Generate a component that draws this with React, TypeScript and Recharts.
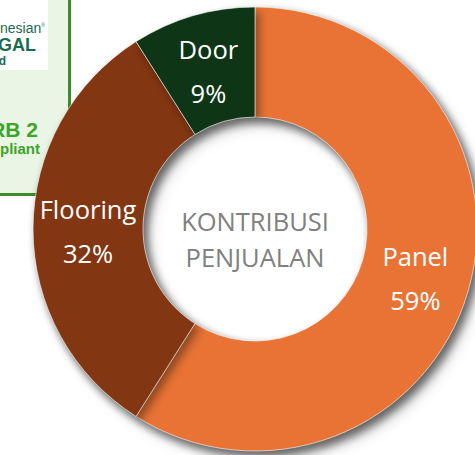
import React from 'react';
import { PieChart, Pie, Cell } from 'recharts';

const categories = ['Panel', 'Flooring', 'Door'];
const shares = [59, 32, 9];
const COLORS = ['#E87335', '#833612', '#0E3616'];
const centerLines = ['KONTRIBUSI', 'PENJUALAN'];

const data = categories.map((name, i) => ({ name, value: shares[i] }));

const RADIAN = Math.PI / 180;
const FONT = '"Open Sans", "Noto Sans", sans-serif';

const renderSliceLabel = (props: any) => {
  const { cx, cy, midAngle, innerRadius, outerRadius, index } = props;
  const r = (innerRadius + outerRadius) / 2;
  const x = cx + r * Math.cos(-midAngle * RADIAN);
  const y = cy + r * Math.sin(-midAngle * RADIAN);
  return (
    <g>
      <text x={x} y={y} fill="#fff" textAnchor="middle" fontSize={25.5} fontFamily={FONT}>
        <tspan x={x} y={y - 10}>{data[index].name}</tspan>
        <tspan x={x} y={y + 34}>{`${data[index].value}%`}</tspan>
      </text>
      {index === 0 && (
        <text x={cx} y={cy} fill="#808080" textAnchor="middle" fontSize={25.5} fontFamily={FONT}>
          <tspan x={cx} y={cy + 2}>{centerLines[0]}</tspan>
          <tspan x={cx} y={cy + 38}>{centerLines[1]}</tspan>
        </text>
      )}
    </g>
  );
};

// cropped certification badge sitting behind the donut
const badgeText = (extra: React.CSSProperties): React.CSSProperties => ({
  position: 'absolute',
  whiteSpace: 'nowrap',
  lineHeight: 1,
  ...extra,
});

const Badge = () => (
  <div
    style={{
      position: 'absolute',
      left: 0,
      top: 0,
      width: 68,
      height: 193,
      background: '#e9f6e5',
      borderRight: '3px solid #3d8b2c',
      borderBottom: '3px solid #3d8b2c',
      overflow: 'hidden',
      fontFamily: '"Liberation Sans", Arial, sans-serif',
      fontWeight: 700,
    }}
  >
    <div style={{ position: 'absolute', left: 0, top: 0, width: 48, height: 70, background: '#fff' }} />
    <div style={badgeText({ right: 23, top: 21, fontSize: 14, color: '#1e6a4e', fontWeight: 400 })}>
      Indonesian<sup style={{ fontSize: 5 }}>®</sup>
    </div>
    <div style={badgeText({ right: 32, top: 36, fontSize: 18, color: '#1e6a4e' })}>LEGAL</div>
    <div style={badgeText({ right: 62, top: 55, fontSize: 12, color: '#1e6a4e' })}>Wood</div>
    <div style={badgeText({ right: 30, top: 119, fontSize: 21, color: '#3ca52a' })}>CARB 2</div>
    <div style={badgeText({ right: 28, top: 141, fontSize: 15, color: '#3ca52a' })}>Compliant</div>
  </div>
);

export default function App() {
  return (
    <div style={{ position: 'absolute', left: 0, top: 0, width: 475, height: 455, overflow: 'hidden', background: '#fff' }}>
      <style>{`.ring-shadow { filter: drop-shadow(4px 5px 4px rgba(0,0,0,0.38)); }`}</style>
      <Badge />
      <div style={{ position: 'absolute', left: 0, top: 0 }}>
        <PieChart width={475} height={455} margin={{ top: 0, right: 0, bottom: 0, left: 0 }}>
          <Pie
            className="ring-shadow"
            data={data}
            dataKey="value"
            nameKey="name"
            cx={255}
            cy={229}
            innerRadius={112}
            outerRadius={222}
            startAngle={90}
            endAngle={-270}
            stroke="#ffffff"
            strokeWidth={0.6}
            label={false}
            labelLine={false}
            isAnimationActive={false}
          >
            {data.map((entry, index) => (
              <Cell key={`cell-${index}`} fill={COLORS[index % COLORS.length]} />
            ))}
          </Pie>
          <Pie
            data={data}
            dataKey="value"
            nameKey="name"
            cx={255}
            cy={229}
            innerRadius={112}
            outerRadius={222}
            startAngle={90}
            endAngle={-270}
            fill="transparent"
            stroke="none"
            label={renderSliceLabel}
            labelLine={false}
            isAnimationActive={false}
          />
        </PieChart>
      </div>
    </div>
  );
}
